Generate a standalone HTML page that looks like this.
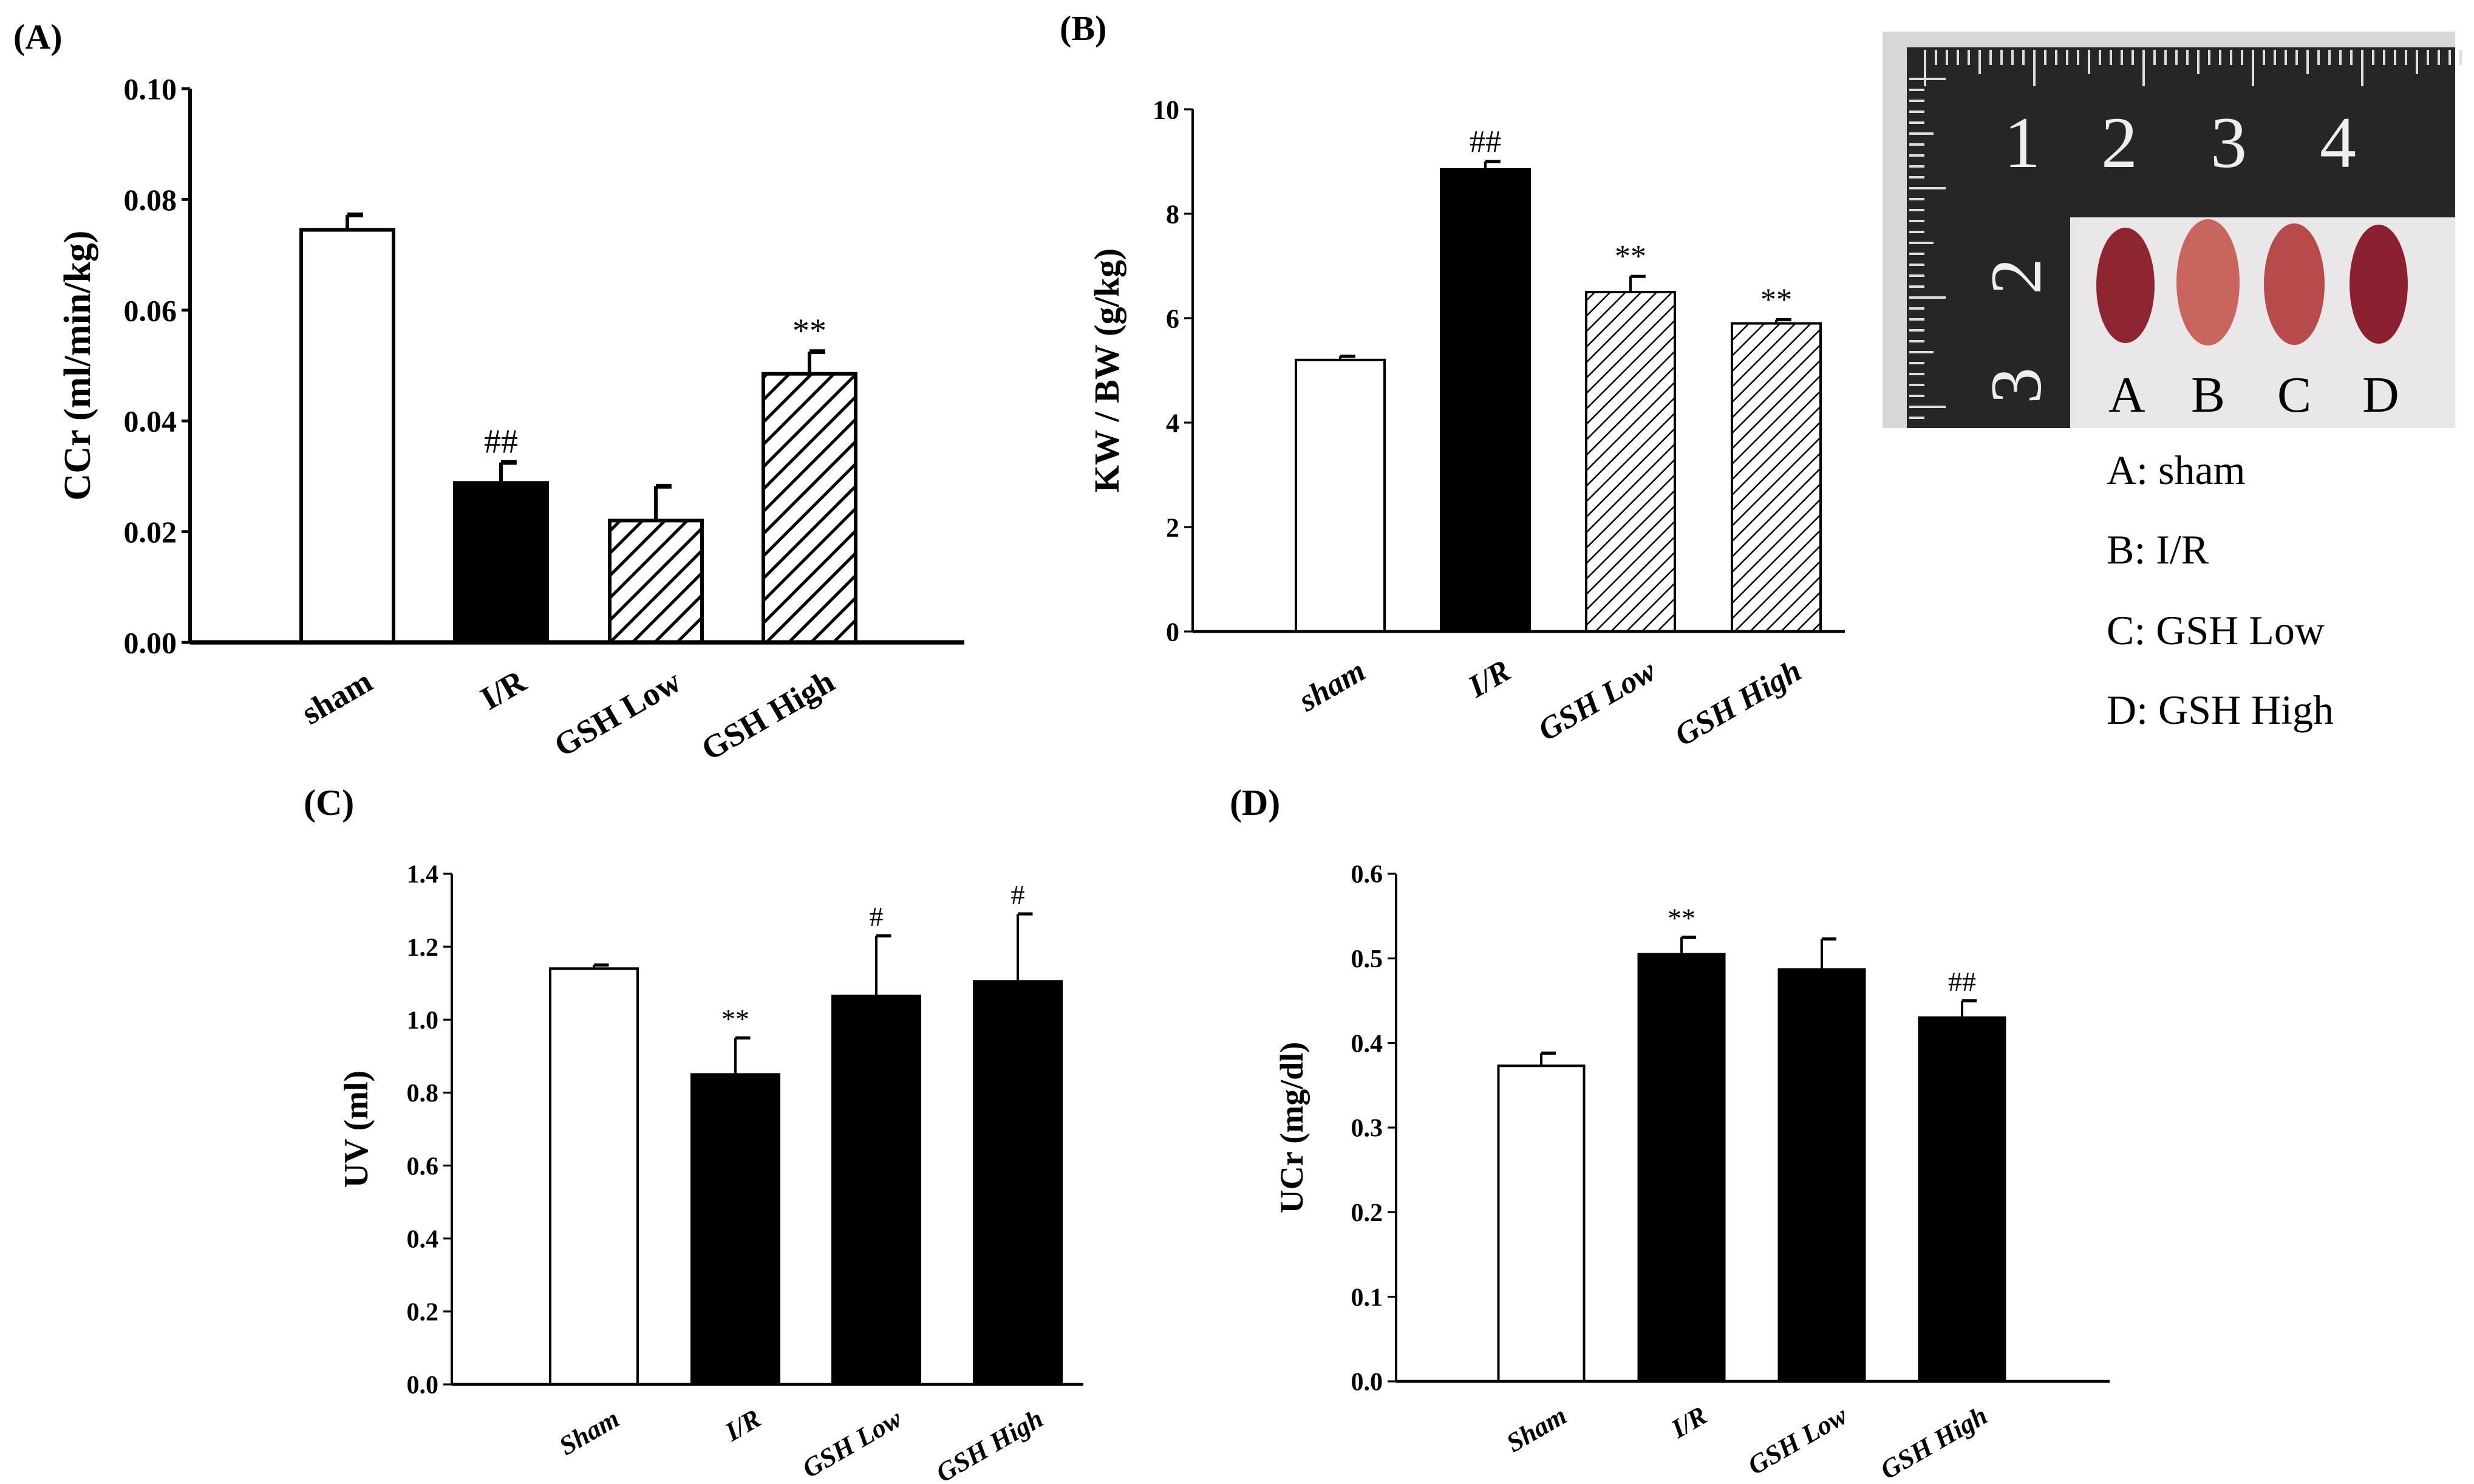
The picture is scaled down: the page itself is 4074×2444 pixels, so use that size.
<!DOCTYPE html>
<html><head><meta charset="utf-8"><style>
html,body{margin:0;padding:0;background:#fff;}
svg{display:block;}
text{font-family:"Liberation Serif",serif;fill:#000;}
</style></head><body>
<svg id="fig" width="4074" height="2444" viewBox="0 0 4074 2444" xmlns="http://www.w3.org/2000/svg">
<defs>
<pattern id="hatchA" patternUnits="userSpaceOnUse" width="26" height="26" patternTransform="rotate(45)"><rect width="26" height="26" fill="#fff"/><line x1="0" y1="0" x2="0" y2="26" stroke="#000" stroke-width="10"/></pattern>
<pattern id="hatchB" patternUnits="userSpaceOnUse" width="18" height="18" patternTransform="rotate(45)"><rect width="18" height="18" fill="#fff"/><line x1="0" y1="0" x2="0" y2="18" stroke="#000" stroke-width="5"/></pattern>
</defs>
<text x="22" y="80" font-size="58" font-weight="bold">(A)</text>
<text x="1745" y="66" font-size="58" font-weight="bold">(B)</text>
<text x="500" y="1342" font-size="60" font-weight="bold">(C)</text>
<text x="2025" y="1342" font-size="60" font-weight="bold">(D)</text>
<g id="photo">
<rect x="3100" y="52" width="943" height="653" fill="#d9d6d6"/>
<rect x="3140" y="78" width="903" height="627" fill="#262626"/>
<rect x="3409" y="358" width="634" height="347" fill="#e9e7e8"/>
<g id="ruler-ticks"></g>
<g font-family="Liberation Sans" font-size="120">
<text x="3300" y="275" style="fill:#eee">1</text><text x="3460" y="275" style="fill:#eee">2</text><text x="3640" y="275" style="fill:#eee">3</text><text x="3820" y="275" style="fill:#eee">4</text>
<text x="3285" y="470" style="fill:#eee" transform="rotate(-90 3330 440)">2</text>
<text x="3285" y="650" style="fill:#eee" transform="rotate(-90 3330 620)">3</text>
</g>
<ellipse cx="3500" cy="470" rx="48" ry="95" fill="#8e2632"/>
<ellipse cx="3636" cy="465" rx="52" ry="104" fill="#c8665e"/>
<ellipse cx="3778" cy="468" rx="50" ry="100" fill="#b74b4c"/>
<ellipse cx="3917" cy="468" rx="48" ry="98" fill="#8a2030"/>
<g font-size="84"><text x="3472" y="678">A</text><text x="3608" y="678">B</text><text x="3750" y="678">C</text><text x="3890" y="678">D</text></g>
</g>
<g font-size="68">
<text x="3469" y="797">A: sham</text>
<text x="3469" y="928">B: I/R</text>
<text x="3469" y="1061">C: GSH Low</text>
<text x="3469" y="1192">D: GSH High</text>
</g>
</svg>
<script>
const categoriesA = ["sham","I/R","GSH Low","GSH High"];
const valuesA = [0.0745, 0.0288, 0.022, 0.0485];
const errorsA = [0.0027, 0.0037, 0.0062, 0.004];
const marksA = ["", "##", "", "**"];
const ticksA = ["0.00","0.02","0.04","0.06","0.08","0.10"];

const categoriesB = ["sham","I/R","GSH Low","GSH High"];
const valuesB = [5.2, 8.85, 6.5, 5.9];
const errorsB = [0.07, 0.15, 0.3, 0.07];
const marksB = ["", "##", "**", "**"];
const ticksB = ["0","2","4","6","8","10"];

const categoriesC = ["Sham","I/R","GSH Low","GSH High"];
const valuesC = [1.14, 0.85, 1.065, 1.105];
const errorsC = [0.01, 0.1, 0.165, 0.185];
const marksC = ["", "**", "#", "#"];
const ticksC = ["0.0","0.2","0.4","0.6","0.8","1.0","1.2","1.4"];

const categoriesD = ["Sham","I/R","GSH Low","GSH High"];
const valuesD = [0.373, 0.505, 0.487, 0.43];
const errorsD = [0.015, 0.02, 0.036, 0.02];
const marksD = ["", "**", "", "##"];
const ticksD = ["0.0","0.1","0.2","0.3","0.4","0.5","0.6"];

const NS = "http://www.w3.org/2000/svg";
const svg = document.getElementById("fig");
function mk(tag, attrs, parent){const e=document.createElementNS(NS,tag);for(const k in attrs)e.setAttribute(k,attrs[k]);(parent||svg).appendChild(e);return e;}

function drawPanel(p){
  const g = mk("g",{});
  
  
  const vmax = parseFloat(p.ticks[p.ticks.length-1]);
  const y = v => p.y0 - (v/vmax)*(p.y0-p.yTop);
  const ya = mk("line",{x1:p.ax,y1:p.yTop,x2:p.ax,y2:p.y0,stroke:"#000","stroke-width":p.axW},g);
  
  
  p.ticks.forEach(t=>{
    const v=parseFloat(t), yy=y(v);
    mk("line",{x1:p.ax-14,y1:yy,x2:p.ax,y2:yy,stroke:"#000","stroke-width":p.axW*0.8},g);
    const tx = mk("text",{x:p.ax-22,y:yy+p.tf*0.35,"text-anchor":"end","font-size":p.tf,"font-weight":"bold"},g);
    
    
    tx.textContent=t;
  });
  p.cats.forEach((c,i)=>{
    const cx=p.centers[i], v=p.vals[i], top=y(v), w=p.bw;
    const r = mk("rect",{x:cx-w/2,y:top,width:w,height:p.y0-top,fill:p.fills[i],stroke:"#000","stroke-width":p.barStroke},g);
    
    
    const et = y(v+p.errs[i]);
    mk("line",{x1:cx,y1:top,x2:cx,y2:et,stroke:"#000","stroke-width":p.barStroke},g);
    const cap = mk("line",{x1:cx,y1:et,x2:cx+w*0.17,y2:et,stroke:"#000","stroke-width":p.barStroke*1.3},g);
    
    
    if(p.marks[i]){
      const m = mk("text",{x:cx,y:et-16,"text-anchor":"middle","font-size":p.mf},g);
      
      
      m.textContent=p.marks[i];
    }
    const lx=cx+p.lx, ly=p.y0+p.ly;
    const lab = mk("text",{x:lx,y:ly,"text-anchor":"end","font-size":p.lf,"font-weight":"bold","font-style":p.italic?"italic":"normal",transform:`rotate(-30 ${lx} ${ly})`},g);
    
    
    lab.textContent=c;
  });
  const xa = mk("line",{x1:p.ax,y1:p.y0,x2:p.axEnd,y2:p.y0,stroke:"#000","stroke-width":p.axW*1.2},g);
  
  
  const tcx=p.titleX, tcy=(p.yTop+p.y0)/2;
  const tt = mk("text",{x:tcx,y:tcy,"text-anchor":"middle","font-size":p.ttf,"font-weight":"bold",transform:`rotate(-90 ${tcx} ${tcy})`},g);
  
  
  tt.textContent=p.title;
}

drawPanel({id:"panel-a",cats:categoriesA,vals:valuesA,errs:errorsA,marks:marksA,ticks:ticksA,
  ax:313,yTop:146,y0:1058,axEnd:1588,centers:[572,825,1080,1333],bw:152,
  fills:["#fff","#000","url(#hatchA)","url(#hatchA)"],barStroke:6,axW:6,tf:50,mf:56,lf:54,lx:45,ly:75,italic:false,
  title:"CCr (ml/min/kg)",titleX:148,ttf:62});
drawPanel({id:"panel-b",cats:categoriesB,vals:valuesB,errs:errorsB,marks:marksB,ticks:ticksB,
  ax:1964,yTop:180,y0:1040,axEnd:3038,centers:[2207,2446,2685,2925],bw:146,
  fills:["#fff","#000","url(#hatchB)","url(#hatchB)"],barStroke:4,axW:4,tf:44,mf:52,lf:52,lx:45,ly:75,italic:true,
  title:"KW / BW (g/kg)",titleX:1842,ttf:58});
drawPanel({id:"panel-c",cats:categoriesC,vals:valuesC,errs:errorsC,marks:marksC,ticks:ticksC,
  ax:744,yTop:1439,y0:2280,axEnd:1784,centers:[978,1211,1443,1676],bw:144,
  fills:["#fff","#000","#000","#000"],barStroke:4,axW:4,tf:42,mf:46,lf:44,lx:45,ly:65,italic:true,
  title:"UV (ml)",titleX:605,ttf:56});
drawPanel({id:"panel-d",cats:categoriesD,vals:valuesD,errs:errorsD,marks:marksD,ticks:ticksD,
  ax:2299,yTop:1439,y0:2275,axEnd:3474,centers:[2538,2769,3000,3231],bw:141,
  fills:["#fff","#000","#000","#000"],barStroke:4,axW:4,tf:42,mf:46,lf:44,lx:45,ly:65,italic:true,
  title:"UCr (mg/dl)",titleX:2145,ttf:54});

const rt=document.getElementById("ruler-ticks");
for(let i=0;i<50;i++){const x=3170+i*18;mk("line",{x1:x,y1:82,x2:x,y2:82+(i%10==0?60:(i%5==0?40:25)),stroke:"#ddd","stroke-width":4},rt);}
for(let i=0;i<32;i++){const yy=130+i*18;mk("line",{x1:3144,y1:yy,x2:3144+(i%10==0?60:(i%5==0?40:25)),y2:yy,stroke:"#ddd","stroke-width":4},rt);}
</script>
</body></html>
